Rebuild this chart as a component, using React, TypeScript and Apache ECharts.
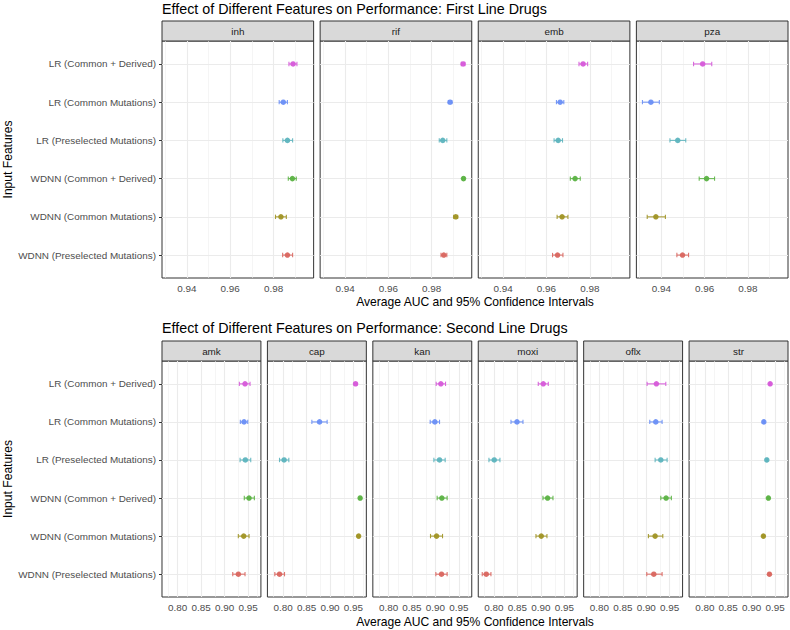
import React, { useEffect, useRef } from "react";
import * as echarts from "echarts";

// Categories, top to bottom as drawn
const features = [
  "LR (Common + Derived)",
  "LR (Common Mutations)",
  "LR (Preselected Mutations)",
  "WDNN (Common + Derived)",
  "WDNN (Common Mutations)",
  "WDNN (Preselected Mutations)",
];
const featureColors = ["#D65AD9", "#6A8FF5", "#5DB4BE", "#5BB243", "#A09324", "#D9665F"];

const firstLineDrugs = ["inh", "rif", "emb", "pza"];
const secondLineDrugs = ["amk", "cap", "kan", "moxi", "oflx", "str"];

// [mean AUC, lower 95% CI, upper 95% CI] for each feature set (same order as features)
const inh = [
  [0.989, 0.9871, 0.9908],
  [0.9845, 0.9826, 0.9864],
  [0.9864, 0.9843, 0.9888],
  [0.9887, 0.9868, 0.9905],
  [0.9834, 0.9809, 0.9859],
  [0.9864, 0.9842, 0.9888],
];
const rif = [
  [0.9945, 0.9937, 0.9953],
  [0.9885, 0.9877, 0.9893],
  [0.9851, 0.9835, 0.987],
  [0.9947, 0.9942, 0.9952],
  [0.9911, 0.9902, 0.992],
  [0.9856, 0.9843, 0.987],
];
const emb = [
  [0.9769, 0.975, 0.979],
  [0.9663, 0.9646, 0.968],
  [0.9654, 0.9635, 0.9674],
  [0.9732, 0.971, 0.9756],
  [0.9672, 0.9649, 0.9699],
  [0.9651, 0.9628, 0.9676],
];
const pza = [
  [0.9591, 0.9549, 0.9633],
  [0.9352, 0.9313, 0.9391],
  [0.9476, 0.944, 0.9513],
  [0.9609, 0.9575, 0.9646],
  [0.9375, 0.9335, 0.9419],
  [0.9498, 0.9472, 0.9526],
];
const amk = [
  [0.9436, 0.9315, 0.9543],
  [0.9415, 0.9336, 0.9494],
  [0.9443, 0.933, 0.9558],
  [0.9522, 0.942, 0.9635],
  [0.9408, 0.9293, 0.9522],
  [0.9294, 0.9174, 0.9436],
];
const cap = [
  [0.9545, 0.9515, 0.9575],
  [0.8777, 0.8613, 0.8939],
  [0.8021, 0.7923, 0.8122],
  [0.9643, 0.9623, 0.9663],
  [0.961, 0.959, 0.963],
  [0.7923, 0.7823, 0.803],
];
const kan = [
  [0.9116, 0.9016, 0.9216],
  [0.8988, 0.8888, 0.9088],
  [0.9088, 0.8967, 0.9208],
  [0.9137, 0.9037, 0.925],
  [0.9024, 0.8895, 0.9152],
  [0.913, 0.9009, 0.925],
];
const moxi = [
  [0.9052, 0.8945, 0.9159],
  [0.8491, 0.8363, 0.8619],
  [0.8006, 0.7893, 0.8128],
  [0.9144, 0.9045, 0.9259],
  [0.9009, 0.8896, 0.9131],
  [0.7836, 0.775, 0.7936],
];
const oflx = [
  [0.9216, 0.9018, 0.9417],
  [0.9203, 0.9075, 0.9338],
  [0.931, 0.9189, 0.9445],
  [0.9423, 0.931, 0.9536],
  [0.9189, 0.9046, 0.9353],
  [0.9161, 0.9011, 0.9338],
];
const str = [
  [0.9394, 0.9379, 0.9409],
  [0.9259, 0.9244, 0.9274],
  [0.9323, 0.9308, 0.9338],
  [0.9357, 0.9342, 0.9372],
  [0.925, 0.9235, 0.9265],
  [0.9379, 0.9364, 0.9394],
];

const firstLineData = [inh, rif, emb, pza];
const secondLineData = [amk, cap, kan, moxi, oflx, str];

const firstTicks = [0.94, 0.96, 0.98];
const firstMinor = [0.93, 0.95, 0.97, 0.99];
const secondTicks = [0.8, 0.85, 0.9, 0.95];
const secondMinor = [0.775, 0.825, 0.875, 0.925, 0.975];

const firstTitle = "Effect of Different Features on Performance: First Line Drugs";
const secondTitle = "Effect of Different Features on Performance: Second Line Drugs";
const xTitle = "Average AUC and 95% Confidence Intervals";
const yTitle = "Input Features";

const FONT = "Liberation Sans, Arial, Helvetica, sans-serif";

export default function App() {
  const ref = useRef<HTMLDivElement>(null);

  useEffect(() => {
    if (!ref.current) return;
    const chart = echarts.init(ref.current, null, { renderer: "svg" });

    const LEFT = 162;
    const RIGHT = 788;
    const GAP = 6.5;
    const YMIN = -0.6;
    const YMAX = features.length - 0.4;

    const rows = [
      {
        drugs: firstLineDrugs,
        data: firstLineData,
        ticks: firstTicks,
        minor: firstMinor,
        min: 0.9285,
        max: 0.9985,
        stripTop: 21,
        panelTop: 41,
        panelH: 237,
        title: firstTitle,
        titleY: 8.5,
        xTitleY: 301.5,
      },
      {
        drugs: secondLineDrugs,
        data: secondLineData,
        ticks: secondTicks,
        minor: secondMinor,
        min: 0.7665,
        max: 0.9775,
        stripTop: 341,
        panelTop: 361,
        panelH: 236,
        title: secondTitle,
        titleY: 328,
        xTitleY: 621.5,
      },
    ];

    const grids: any[] = [];
    const xAxes: any[] = [];
    const yAxes: any[] = [];
    const series: any[] = [];
    const graphics: any[] = [];

    rows.forEach((row) => {
      const n = row.drugs.length;
      const w = (RIGHT - LEFT - GAP * (n - 1)) / n;
      row.drugs.forEach((drug, i) => {
        const gi = grids.length;
        const left = LEFT + i * (w + GAP);
        grids.push({
          left,
          top: row.panelTop,
          width: w,
          height: row.panelH,
          show: true,
          backgroundColor: "#ffffff",
          borderColor: "#333333",
          borderWidth: 1,
          containLabel: false,
        });
        xAxes.push({
          type: "value",
          gridIndex: gi,
          min: row.min,
          max: row.max,
          axisLine: { show: false },
          splitLine: { show: false },
          axisTick: {
            show: true,
            customValues: row.ticks,
            length: 3,
            lineStyle: { color: "#333333", width: 1 },
          },
          axisLabel: {
            show: true,
            customValues: row.ticks,
            formatter: (v: number) => v.toFixed(2),
            color: "#4d4d4d",
            fontSize: 9.9,
            fontFamily: FONT,
            margin: 5,
          },
        });
        const first = i === 0;
        yAxes.push({
          type: "value",
          gridIndex: gi,
          inverse: true,
          min: YMIN,
          max: YMAX,
          axisLine: { show: false },
          splitLine: { show: false },
          axisTick: {
            show: first,
            customValues: features.map((_, k) => k),
            length: 3,
            lineStyle: { color: "#333333", width: 1 },
          },
          axisLabel: {
            show: first,
            customValues: features.map((_, k) => k),
            formatter: (v: number) => features[Math.round(v)] ?? "",
            color: "#4d4d4d",
            fontSize: 9.9,
            fontFamily: FONT,
            margin: 6,
          },
        });

        const vals = row.data[i];
        // error bars
        series.push({
          type: "custom",
          xAxisIndex: gi,
          yAxisIndex: gi,
          z: 3,
          silent: true,
          data: vals.map((d, k) => [d[0], k, d[1], d[2]]),
          encode: { x: 0, y: 1 },
          renderItem: (_params: any, api: any) => {
            const k = api.value(1);
            const a = api.coord([api.value(2), k]);
            const b = api.coord([api.value(3), k]);
            const color = featureColors[k];
            const c = 2.2;
            const st = { stroke: color, lineWidth: 1.1, opacity: 0.9 };
            return {
              type: "group",
              children: [
                { type: "line", shape: { x1: a[0], y1: a[1], x2: b[0], y2: b[1] }, style: st },
                { type: "line", shape: { x1: a[0], y1: a[1] - c, x2: a[0], y2: a[1] + c }, style: st },
                { type: "line", shape: { x1: b[0], y1: b[1] - c, x2: b[0], y2: b[1] + c }, style: st },
              ],
            };
          },
        });
        // points, with the panel's background grid as mark lines
        series.push({
          type: "scatter",
          xAxisIndex: gi,
          yAxisIndex: gi,
          z: 4,
          silent: true,
          symbol: "circle",
          symbolSize: 5.5,
          data: vals.map((d, k) => ({
            value: [d[0], k],
            itemStyle: { color: featureColors[k], opacity: 0.95 },
          })),
          markLine: {
            silent: true,
            z: 1,
            symbol: ["none", "none"],
            label: { show: false },
            emphasis: { disabled: true },
            animation: false,
            lineStyle: { color: "#ebebeb", type: "solid", width: 1.1 },
            data: [
              ...row.minor.map((t) => ({
                xAxis: t,
                lineStyle: { color: "#efefef", type: "solid", width: 0.6 },
              })),
              ...row.ticks.map((t) => ({ xAxis: t })),
              ...features.map((_, k) => ({ yAxis: k })),
            ],
          },
        });

        // strip header
        graphics.push({
          type: "group",
          z: 10,
          children: [
            {
              type: "rect",
              shape: { x: left, y: row.stripTop, width: w, height: row.panelTop - row.stripTop },
              style: { fill: "#d9d9d9", stroke: "#333333", lineWidth: 1 },
            },
            {
              type: "text",
              x: left + w / 2,
              y: row.stripTop + (row.panelTop - row.stripTop) / 2,
              style: {
                text: drug,
                fill: "#1a1a1a",
                font: `9.9px ${FONT}`,
                align: "center",
                verticalAlign: "middle",
              },
            },
          ],
        });
      });

      // row title
      graphics.push({
        type: "text",
        x: LEFT,
        y: row.titleY,
        z: 10,
        style: {
          text: row.title,
          fill: "#000000",
          font: `14.3px ${FONT}`,
          align: "left",
          verticalAlign: "middle",
        },
      });
      // x axis title
      graphics.push({
        type: "text",
        x: (LEFT + RIGHT) / 2,
        y: row.xTitleY,
        z: 10,
        style: {
          text: xTitle,
          fill: "#000000",
          font: `12.1px ${FONT}`,
          align: "center",
          verticalAlign: "middle",
        },
      });
      // y axis title
      graphics.push({
        type: "text",
        x: 8,
        y: row.panelTop + row.panelH / 2,
        rotation: Math.PI / 2,
        z: 10,
        style: {
          text: yTitle,
          fill: "#000000",
          font: `12.1px ${FONT}`,
          align: "center",
          verticalAlign: "middle",
        },
      });
    });

    chart.setOption({
      animation: false,
      backgroundColor: "#ffffff",
      textStyle: { fontFamily: FONT },
      grid: grids,
      xAxis: xAxes,
      yAxis: yAxes,
      series,
      graphic: graphics,
    });

    return () => {
      chart.dispose();
    };
  }, []);

  return (
    <div
      ref={ref}
      style={{ position: "fixed", left: 0, top: 0, width: 790, height: 630, background: "#fff" }}
    />
  );
}
